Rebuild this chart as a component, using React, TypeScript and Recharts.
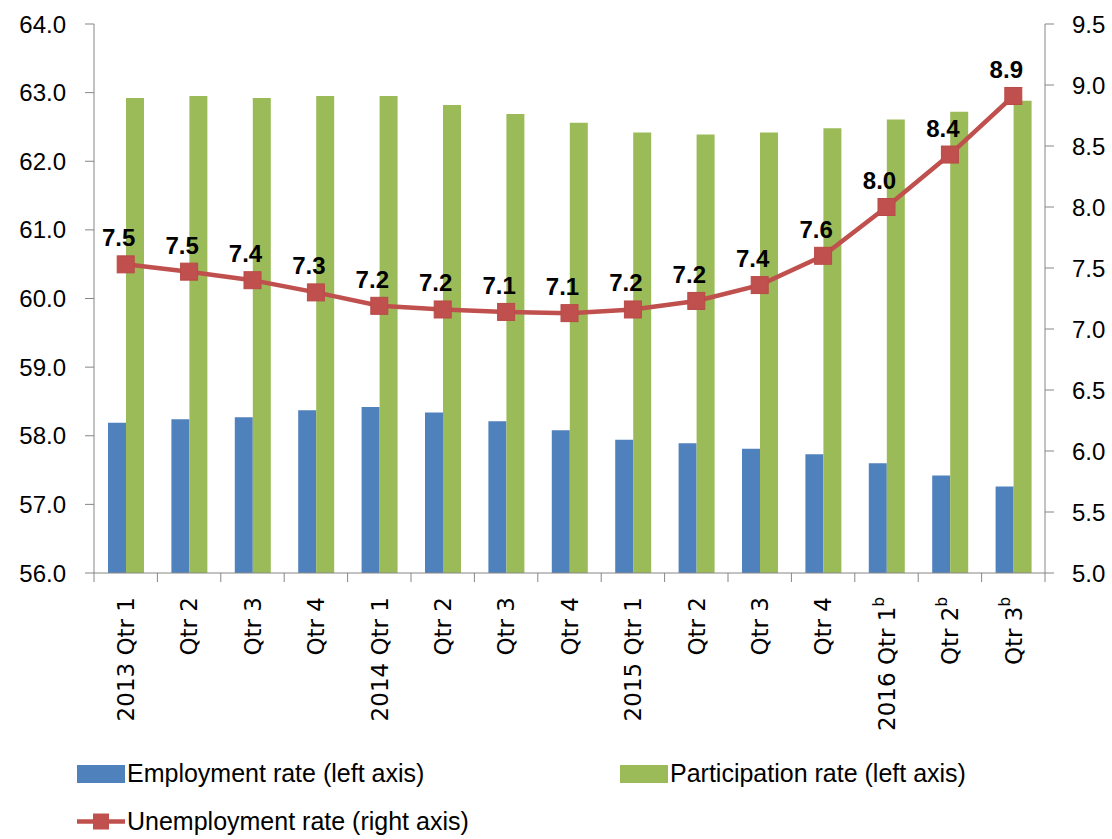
import { Bar, ComposedChart, LabelList, Line, XAxis, YAxis } from "recharts";

const categories = [
  "2013 Qtr 1", "Qtr 2", "Qtr 3", "Qtr 4",
  "2014 Qtr 1", "Qtr 2", "Qtr 3", "Qtr 4",
  "2015 Qtr 1", "Qtr 2", "Qtr 3", "Qtr 4",
  "2016 Qtr 1ᵇ", "Qtr 2ᵇ", "Qtr 3ᵇ"
];
const employment = [58.19, 58.24, 58.27, 58.37, 58.42, 58.34, 58.21, 58.08, 57.94, 57.89, 57.81, 57.73, 57.6, 57.42, 57.26];
const participation = [62.92, 62.95, 62.92, 62.95, 62.95, 62.82, 62.69, 62.56, 62.42, 62.39, 62.42, 62.48, 62.61, 62.72, 62.88];
const unemployment = [7.53, 7.47, 7.4, 7.3, 7.19, 7.16, 7.14, 7.13, 7.16, 7.23, 7.36, 7.6, 8.0, 8.43, 8.91];

const leftTicks = [56, 57, 58, 59, 60, 61, 62, 63, 64];
const rightTicks = [5, 5.5, 6, 6.5, 7, 7.5, 8, 8.5, 9, 9.5];

const data = categories.map((name, i) => ({
  name,
  employment: employment[i],
  participation: participation[i],
  unemployment: unemployment[i]
}));

const BLUE = "#4F81BD";
const GREEN = "#9BBB59";
const RED = "#C0504D";
const AXIS = "#868686";
const W = 1112;
const H = 839;
const LEFT_W = 94;
const RIGHT_W = 67;
const BAND = (W - LEFT_W - RIGHT_W) / categories.length;
const FONT = "'Liberation Sans', Arial, sans-serif";

function CategoryTick(props: any) {
  const { x, y, payload, index } = props;
  const label = String(payload.value);
  const note = label.endsWith("ᵇ");
  const main = note ? label.slice(0, -1) : label;
  const axisY = y - 24;
  return (
    <g>
      <line x1={x - BAND / 2} x2={x - BAND / 2} y1={axisY} y2={axisY + 9} stroke={AXIS} />
      {index === categories.length - 1 && (
        <line x1={x + BAND / 2} x2={x + BAND / 2} y1={axisY} y2={axisY + 9} stroke={AXIS} />
      )}
      <text
        x={x}
        y={y}
        transform={`rotate(-90 ${x} ${y})`}
        textAnchor="end"
        dy="0.36em"
        fontFamily="'DejaVu Sans', sans-serif"
        fontSize={23}
        fill="#000"
      >
        {main}
        {note && (
          <tspan fontSize={15} dy="-0.75em">
            b
          </tspan>
        )}
      </text>
    </g>
  );
}

function SquareDot(props: any) {
  const { cx, cy } = props;
  if (cx == null || cy == null) return null;
  return <rect x={cx - 8.5} y={cy - 8.5} width={17} height={17} fill={RED} stroke="#B84A47" strokeWidth={1} />;
}

function RateLabel(props: any) {
  const { x, y, value } = props;
  return (
    <text x={x - 7} y={y - 18} textAnchor="middle" fontFamily={FONT} fontWeight="bold" fontSize={24} fill="#000">
      {Number(value).toFixed(1)}
    </text>
  );
}

const legendText = { fontFamily: FONT, fontSize: 25, color: "#000", lineHeight: "25px", whiteSpace: "nowrap" as const };

export default function App() {
  return (
    <div style={{ position: "absolute", left: 0, top: 0, width: W, height: H, background: "#fff" }}>
      <ComposedChart width={W} height={H} data={data} margin={{ top: 24, right: 0, left: 0, bottom: 86 }} barGap={0}>
        <XAxis
          dataKey="name"
          height={180}
          interval={0}
          axisLine={{ stroke: AXIS }}
          tickLine={false}
          tickSize={9}
          tickMargin={15}
          tick={<CategoryTick />}
        />
        <YAxis
          yAxisId="left"
          orientation="left"
          width={LEFT_W}
          domain={[56, 64]}
          ticks={leftTicks}
          interval={0}
          tickFormatter={(v: number) => v.toFixed(1)}
          axisLine={{ stroke: AXIS }}
          tickLine={{ stroke: AXIS }}
          tickSize={9}
          tickMargin={19}
          tick={{ fill: "#000", fontSize: 24, fontFamily: FONT }}
        />
        <YAxis
          yAxisId="right"
          orientation="right"
          width={RIGHT_W}
          domain={[5, 9.5]}
          ticks={rightTicks}
          interval={0}
          tickFormatter={(v: number) => v.toFixed(1)}
          axisLine={{ stroke: AXIS }}
          tickLine={{ stroke: AXIS }}
          tickSize={9}
          tickMargin={18}
          tick={{ fill: "#000", fontSize: 24, fontFamily: FONT, textAnchor: "start" }}
        />
        <Bar yAxisId="left" dataKey="employment" fill={BLUE} barSize={18} isAnimationActive={false} />
        <Bar yAxisId="left" dataKey="participation" fill={GREEN} barSize={18} isAnimationActive={false} />
        <Line
          yAxisId="right"
          dataKey="unemployment"
          stroke={RED}
          strokeWidth={4.5}
          dot={<SquareDot />}
          activeDot={false}
          isAnimationActive={false}
        >
          <LabelList dataKey="unemployment" content={<RateLabel />} />
        </Line>
      </ComposedChart>

      <div style={{ position: "absolute", left: 77, top: 761, display: "flex", alignItems: "center" }}>
        <div style={{ width: 48, height: 18, background: BLUE, marginRight: 2 }} />
        <span style={legendText}>Employment rate (left axis)</span>
      </div>
      <div style={{ position: "absolute", left: 620, top: 761, display: "flex", alignItems: "center" }}>
        <div style={{ width: 48, height: 18, background: GREEN, marginRight: 2 }} />
        <span style={legendText}>Participation rate (left axis)</span>
      </div>
      <div style={{ position: "absolute", left: 77, top: 809, display: "flex", alignItems: "center" }}>
        <svg width={48} height={25} style={{ marginRight: 2 }}>
          <line x1={0} x2={48} y1={12.5} y2={12.5} stroke={RED} strokeWidth={4.5} />
          <rect x={16} y={4.5} width={16} height={16} fill={RED} />
        </svg>
        <span style={legendText}>Unemployment rate (right axis)</span>
      </div>
    </div>
  );
}
